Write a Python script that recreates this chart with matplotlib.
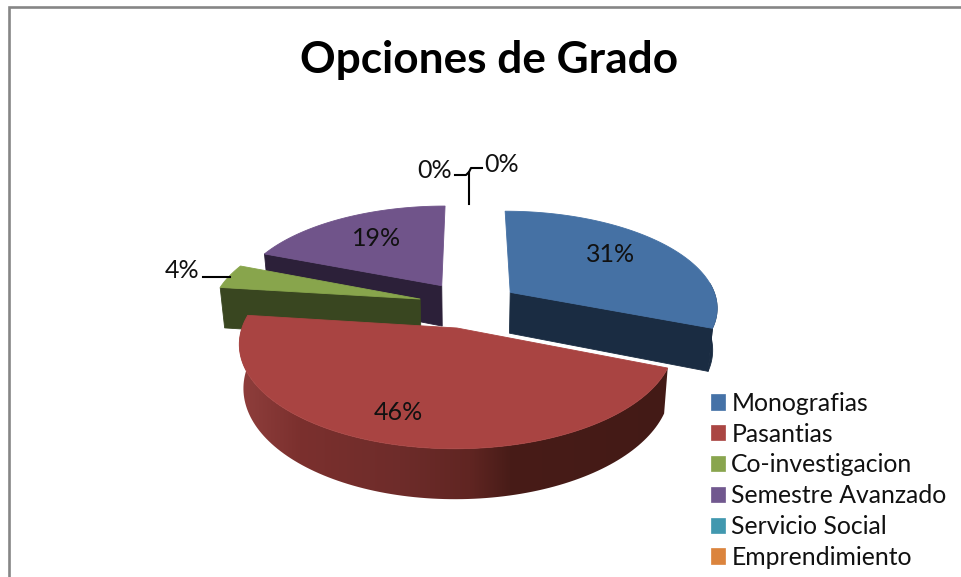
import numpy as np
import matplotlib
matplotlib.use("Agg")
import matplotlib.pyplot as plt
from matplotlib.patches import Polygon, Patch

# chart data
title = "Opciones de Grado"
categories = ["Monografias", "Pasantias", "Co-investigacion", "Semestre Avanzado", "Servicio Social", "Emprendimiento"]
values = [31, 46, 4, 19, 0, 0]

# slice styling
top_colors = ["#4571a4", "#a94442", "#88a54c", "#70548a", "#4198af", "#db843d"]
wall_colors = ["#1a2c42", "#431a16", "#394620", "#2c2039", "#1f4a55", "#6b3f1c"]
legend_colors = ["#4572a7", "#aa4643", "#89a54e", "#71588f", "#4198af", "#db843d"]
explode_x = [0.202, -0.056, -0.237, -0.135, 0.0, 0.0]
explode_y = [0.365, 0.0, 0.2936, 0.438, 0.4, 0.4]
draw_order = [3, 2, 0, 1]

# red side shading, by screen x
shade_x = [240, 250, 300, 400, 470, 510, 670]
shade_rgb = np.array([[0x8f, 0x3d, 0x3b], [0x8c, 0x3c, 0x3a], [0x7b, 0x30, 0x2e], [0x6e, 0x2c, 0x2a],
                      [0x60, 0x25, 0x22], [0x48, 0x1c, 0x18], [0x43, 0x1a, 0x16]]) / 255.0

# perspective of the disc
CX, HORIZON, L, K, A = 469.0, -367.0, 695.0, 0.148, 215.0
DEPTH = 43.0
SHRINK = 0.982


def project(x, y):
    w = 1 + K * np.asarray(y)
    return CX + A * np.asarray(x) / w, HORIZON + L / w


def lower(px, py, y):
    w = 1 + K * np.asarray(y)
    return CX + (px - CX) * SHRINK, py + DEPTH / w


def wall(xs, ys):
    # outline of the side between two points or along an arc
    px, py = project(xs, ys)
    lx, ly = lower(px, py, ys)
    return np.r_[np.c_[px, py], np.c_[lx, ly][::-1]]


def draw_slice(ax, i, start, end, z):
    ox, oy = explode_x[i], explode_y[i]
    th = np.radians(np.linspace(start, end, 120))
    xs = ox + np.sin(th)
    ys = oy + np.cos(th)
    # outer wall, only the part that faces us
    front = np.cos(th) < 0.1
    if front.sum() > 1:
        outline = wall(xs[front], ys[front])
        if i == 1:
            grid = np.arange(230, 680)
            shade = np.array([[np.interp(grid, shade_x, shade_rgb[:, c]) for c in range(3)]]).transpose(0, 2, 1)
            im = ax.imshow(shade, extent=(230, 680, 520, 300), aspect="auto", zorder=z, interpolation="bilinear")
            im.set_clip_path(Polygon(outline, closed=True, transform=ax.transData))
        else:
            ax.add_patch(Polygon(outline, closed=True, fc=wall_colors[i], ec=wall_colors[i], lw=0.6, zorder=z))
    # cut faces
    if np.sin(th[0]) < -0.01:
        ax.add_patch(Polygon(wall(np.r_[ox, xs[0]], np.r_[oy, ys[0]]), closed=True, fc=wall_colors[i],
                             ec=wall_colors[i], lw=0.6, zorder=z + 0.1))
    if np.sin(th[-1]) > 0.01:
        ax.add_patch(Polygon(wall(np.r_[ox, xs[-1]], np.r_[oy, ys[-1]]), closed=True, fc=wall_colors[i],
                             ec=wall_colors[i], lw=0.6, zorder=z + 0.1))
    # top face
    tx, ty = project(np.r_[ox, xs], np.r_[oy, ys])
    ax.add_patch(Polygon(np.c_[tx, ty], closed=True, fc=top_colors[i], ec=top_colors[i], lw=0.6, zorder=z + 0.2))


plt.rcParams["font.family"] = ["Lato", "DejaVu Sans"]
fig = plt.figure(figsize=(9.61, 5.77), dpi=100, facecolor="white")
ax = fig.add_axes([0, 0, 1, 1])

edges = np.r_[0, np.cumsum(values)] / float(sum(values)) * 360.0
for n, i in enumerate(draw_order):
    draw_slice(ax, i, edges[i], edges[i + 1], 2 + n)

ax.set_xlim(0, 961)
ax.set_ylim(577, 0)
ax.axis("off")

# chart area border
ax.plot([9, 9, 961], [577, 7, 7], color="#868686", lw=1.9, solid_joinstyle="miter", zorder=1)

ax.text(489, 60, title, ha="center", va="center", fontsize=31.8, fontweight="bold", color="black")

# percent labels
label_pos = [(611, 254), (398, 413), (182, 271), (377, 238), (435, 171), (502, 164)]
for v, (lx, ly) in zip(values, label_pos):
    ax.text(lx, ly, "%d%%" % round(v), ha="center", va="center", fontsize=18, color="#111111", zorder=20)

# leader lines
ax.plot([203, 230], [277, 277], color="black", lw=1.5, zorder=20)
ax.plot([455, 466, 469, 469], [175, 175, 172, 204], color="black", lw=1.5, zorder=20)
ax.plot([469, 471, 482], [172, 168, 168], color="black", lw=1.5, zorder=20)

handles = [Patch(fc=c, ec=c, lw=0.5) for c in legend_colors]
ax.legend(handles, categories, loc="upper left", bbox_to_anchor=(694, 374.5), bbox_transform=ax.transData,
          frameon=False, fontsize=17.8, handlelength=0.57, handleheight=0.57, handletextpad=0.24,
          labelspacing=0.315, borderpad=0.2, labelcolor="#111111")

fig.savefig("out.png", dpi=100)
